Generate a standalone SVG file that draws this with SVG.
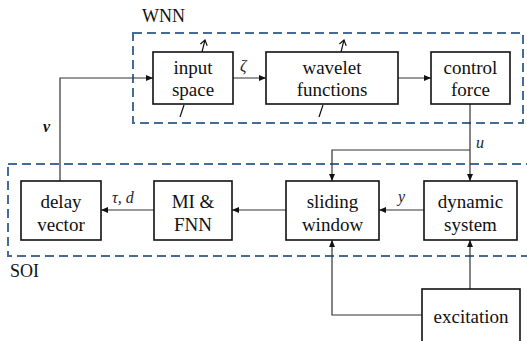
<svg xmlns="http://www.w3.org/2000/svg" width="527" height="341" viewBox="0 0 527 341">
<style>
.node{fill:#fff;stroke:#111;stroke-width:1.6}
.t{font-size:19px;fill:#111;text-anchor:middle}
.lbl{font-size:18px;fill:#111}
.m{font-style:italic;font-size:16px;fill:#223}
.grp{fill:none;stroke:#456b99;stroke-width:2;stroke-dasharray:9 5}
.c{fill:none;stroke:#333;stroke-width:1.2}
.adj{fill:none;stroke:#111;stroke-width:1.2}
</style>
<defs>
<marker id="ah" markerWidth="8" markerHeight="8" refX="7" refY="4" orient="auto" markerUnits="userSpaceOnUse">
<path d="M0,1 L7,4 L0,7 Z" fill="#111"/>
</marker>
<marker id="oh" markerWidth="8" markerHeight="8" refX="6" refY="4" orient="auto" markerUnits="userSpaceOnUse">
<path d="M1,0.5 L6,4 L1,7.5" fill="none" stroke="#111" stroke-width="1.2"/>
</marker>
</defs>
<rect x="0" y="0" width="527" height="341" fill="#fff"/>
<g font-family="Liberation Serif, Times New Roman, Tinos, DejaVu Serif, Noto Serif, serif">
<g id="groups">
<rect class="grp" x="133" y="33" width="390" height="90"/>
<rect class="grp" x="8" y="164" width="530" height="92"/>
<text class="lbl" x="142" y="22">WNN</text>
<text class="lbl" x="10" y="277">SOI</text>
</g>
<g id="connectors">
<path class="c" d="M60,181 V78 H153" marker-end="url(#ah)"/>
<path class="c" d="M233,78 H266" marker-end="url(#ah)"/>
<path class="c" d="M398,78 H431" marker-end="url(#ah)"/>
<path class="c" d="M470,104 V181" marker-end="url(#ah)"/>
<path class="c" d="M470,150 H332 V181" marker-end="url(#ah)"/>
<path class="c" d="M424,210 H379" marker-end="url(#ah)"/>
<path class="c" d="M286,210 H232" marker-end="url(#ah)"/>
<path class="c" d="M154,210 H101" marker-end="url(#ah)"/>
<path class="c" d="M470,289 V240" marker-end="url(#ah)"/>
<path class="c" d="M422,315 H332 V240" marker-end="url(#ah)"/>
<path class="adj" d="M202,52 L205,40" marker-end="url(#oh)"/>
<path class="adj" d="M180,117 L184,105"/>
<path class="adj" d="M341,52 L344,40" marker-end="url(#oh)"/>
<path class="adj" d="M319,117 L323,105"/>
<text class="m" x="240" y="71">ζ</text>
<text class="m" x="476" y="148">u</text>
<text class="m" x="398" y="202">y</text>
<text class="m" x="112" y="203">τ, d</text>
<text x="43" y="132" font-style="italic" font-weight="bold" font-size="16" fill="#111">ν</text>
</g>
<g id="input-space">
<rect class="node" x="153" y="52" width="80" height="52"/>
<text class="t" x="193" y="74">input</text>
<text class="t" x="193" y="96">space</text>
</g>
<g id="wavelet-functions">
<rect class="node" x="266" y="52" width="132" height="52"/>
<text class="t" x="332" y="74">wavelet</text>
<text class="t" x="332" y="96">functions</text>
</g>
<g id="control-force">
<rect class="node" x="431" y="52" width="79" height="52"/>
<text class="t" x="470.5" y="74">control</text>
<text class="t" x="470.5" y="96">force</text>
</g>
<g id="delay-vector">
<rect class="node" x="21" y="181" width="80" height="59"/>
<text class="t" x="61" y="208">delay</text>
<text class="t" x="61" y="231">vector</text>
</g>
<g id="mi-fnn">
<rect class="node" x="154" y="181" width="78" height="59"/>
<text class="t" x="193" y="208">MI &amp;</text>
<text class="t" x="193" y="231">FNN</text>
</g>
<g id="sliding-window">
<rect class="node" x="286" y="181" width="93" height="59"/>
<text class="t" x="332.5" y="208">sliding</text>
<text class="t" x="332.5" y="231">window</text>
</g>
<g id="dynamic-system">
<rect class="node" x="424" y="181" width="93" height="59"/>
<text class="t" x="470.5" y="208">dynamic</text>
<text class="t" x="470.5" y="231">system</text>
</g>
<g id="excitation">
<rect class="node" x="422" y="289" width="98" height="60"/>
<text class="t" x="471" y="323">excitation</text>
</g>
</g>
</svg>
